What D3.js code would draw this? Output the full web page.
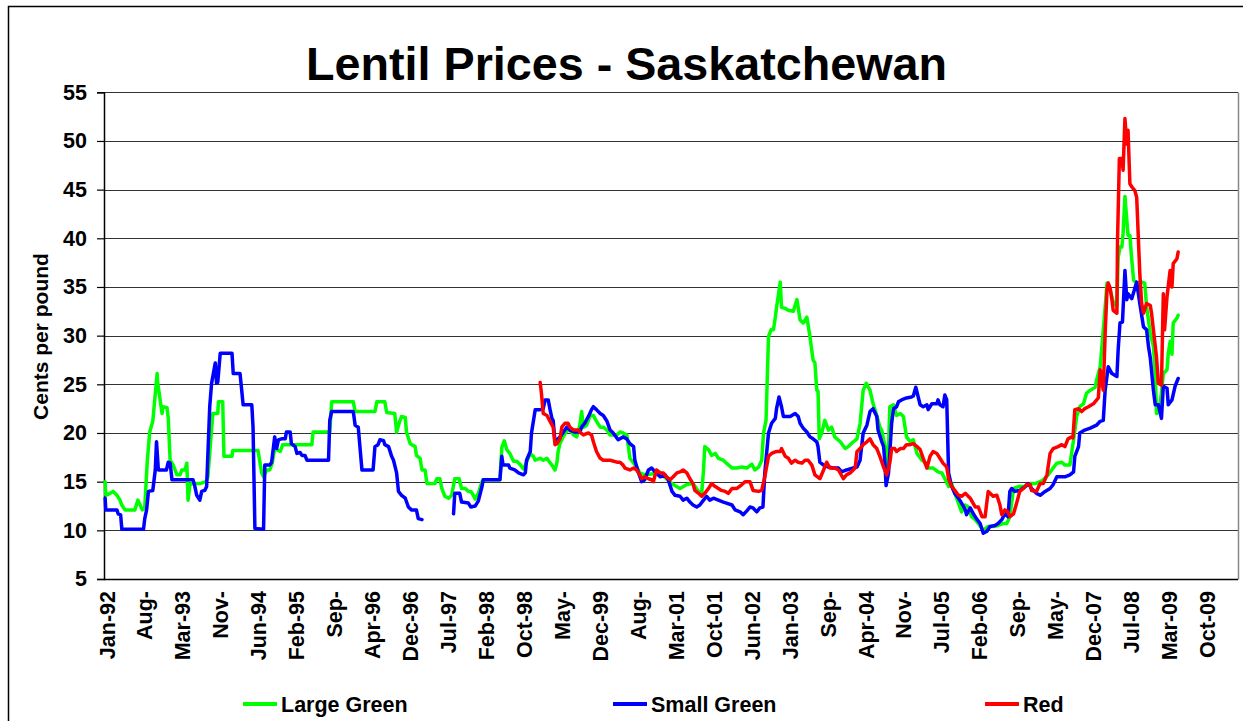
<!DOCTYPE html>
<html>
<head>
<meta charset="utf-8">
<script src="https://cdn.jsdelivr.net/npm/d3@7"></script>
<style>
  html, body { margin: 0; padding: 0; background: #fff; }
  svg { display: block; font-family: "Liberation Sans", Arial, sans-serif; }
</style>
</head>
<body>
<svg id="chart" width="1243" height="721"></svg>
<script>
// ---------- DATA ----------
const title = "Lentil Prices - Saskatchewan";
const yTitle = "Cents per pound";
const seriesNames = ["Large Green", "Small Green", "Red"];
const seriesColors = ["#00FF00", "#0000FF", "#FF0000"];
const yTicks = [5, 10, 15, 20, 25, 30, 35, 40, 45, 50, 55];
const xTickLabels = ["Jan-92","Aug-","Mar-93","Nov-","Jun-94","Feb-95","Sep-","Apr-96","Dec-96","Jul-97",
  "Feb-98","Oct-98","May-","Dec-99","Aug-","Mar-01","Oct-01","Jun-02","Jan-03","Sep-",
  "Apr-04","Nov-","Jul-05","Feb-06","Sep-","May-","Dec-07","Jul-08","Mar-09","Oct-09"];
const xTickStart = 1992.0;            // first label (decimal year)
const xTickStep = 32 * 7 / 365.25;    // one label every 32 weekly categories

// [decimal year, cents per pound]
const largeGreen = [
[1991.97,15.0],[1991.98,13.6],[1992.05,13.8],[1992.10,14.0],[1992.16,13.6],[1992.21,13.1],[1992.24,12.6],[1992.29,12.1],[1992.45,12.1],[1992.50,13.1],[1992.57,12.1],[1992.61,12.3],[1992.65,17.0],[1992.69,20.1],[1992.74,21.2],[1992.81,26.1],[1992.82,25.1],[1992.89,22.0],[1992.90,22.7],[1992.97,22.6],[1992.99,21.5],[1993.02,17.2],[1993.07,16.7],[1993.10,16.2],[1993.13,15.7],[1993.18,15.7],[1993.21,16.2],[1993.26,16.2],[1993.29,16.9],[1993.31,13.1],[1993.34,14.7],[1993.37,14.8],[1993.50,14.8],[1993.60,15.0],[1993.63,15.5],[1993.71,22.0],[1993.79,22.0],[1993.80,23.2],[1993.87,23.2],[1993.89,17.6],[1994.02,17.6],[1994.03,18.2],[1994.41,18.2],[1994.44,18.2],[1994.50,15.9],[1994.53,15.5],[1994.58,16.2],[1994.63,16.2],[1994.67,16.9],[1994.71,18.4],[1994.80,18.1],[1994.84,18.8],[1995.31,18.8],[1995.33,20.1],[1995.60,20.1],[1995.63,23.2],[1995.98,23.2],[1996.01,22.2],[1996.33,22.2],[1996.36,23.2],[1996.49,23.2],[1996.52,22.1],[1996.65,22.0],[1996.68,20.1],[1996.73,21.2],[1996.76,21.7],[1996.82,21.6],[1996.84,20.1],[1996.90,18.9],[1996.98,18.6],[1997.00,17.7],[1997.06,17.4],[1997.09,16.2],[1997.14,16.2],[1997.17,14.8],[1997.30,14.8],[1997.33,15.3],[1997.38,15.3],[1997.41,14.3],[1997.46,13.5],[1997.52,13.3],[1997.57,13.6],[1997.62,15.3],[1997.69,15.3],[1997.73,14.3],[1997.79,14.3],[1997.84,14.0],[1997.88,14.0],[1997.92,13.6],[1997.95,13.2],[1998.00,13.8],[1998.06,15.0],[1998.08,15.2],[1998.35,15.2],[1998.38,18.5],[1998.42,19.2],[1998.46,18.3],[1998.51,17.9],[1998.57,17.1],[1998.62,17.1],[1998.67,16.8],[1998.73,16.3],[1998.78,17.0],[1998.84,17.9],[1998.89,17.6],[1998.92,17.2],[1999.00,17.4],[1999.05,17.2],[1999.11,17.4],[1999.13,17.2],[1999.19,16.7],[1999.24,16.2],[1999.27,16.9],[1999.29,18.1],[1999.32,18.9],[1999.37,19.6],[1999.43,20.2],[1999.48,20.3],[1999.54,19.8],[1999.59,19.6],[1999.64,20.8],[1999.67,22.2],[1999.70,20.6],[1999.75,20.8],[1999.81,21.8],[1999.86,21.8],[1999.91,21.2],[1999.97,20.6],[2000.02,20.6],[2000.08,20.3],[2000.13,19.8],[2000.24,19.8],[2000.29,20.1],[2000.34,20.0],[2000.40,19.8],[2000.45,17.4],[2000.56,16.5],[2000.61,15.9],[2000.69,15.7],[2000.94,15.9],[2001.04,15.3],[2001.15,14.7],[2001.26,14.3],[2001.37,14.7],[2001.47,14.8],[2001.56,14.0],[2001.61,13.8],[2001.64,16.2],[2001.66,18.6],[2001.72,18.3],[2001.77,17.7],[2001.83,17.9],[2001.88,17.4],[2001.96,17.2],[2002.01,16.9],[2002.10,16.4],[2002.18,16.4],[2002.26,16.5],[2002.34,16.4],[2002.42,16.8],[2002.47,16.2],[2002.53,16.5],[2002.58,17.2],[2002.61,20.0],[2002.65,21.3],[2002.69,29.9],[2002.73,30.6],[2002.77,30.6],[2002.80,31.9],[2002.82,32.9],[2002.88,35.5],[2002.90,32.9],[2002.96,32.8],[2003.01,32.6],[2003.09,32.5],[2003.15,33.7],[2003.20,31.6],[2003.25,31.3],[2003.31,31.9],[2003.36,29.9],[2003.41,27.5],[2003.44,27.2],[2003.47,24.4],[2003.49,24.3],[2003.51,19.4],[2003.55,20.0],[2003.60,21.3],[2003.66,20.3],[2003.71,20.6],[2003.76,19.6],[2003.85,19.1],[2003.93,18.4],[2003.98,18.6],[2004.06,19.1],[2004.12,19.4],[2004.17,21.0],[2004.22,24.4],[2004.27,25.1],[2004.33,24.4],[2004.38,23.0],[2004.44,21.8],[2004.49,20.6],[2004.52,20.3],[2004.55,19.3],[2004.60,17.9],[2004.62,16.5],[2004.65,22.7],[2004.71,22.9],[2004.76,21.8],[2004.82,22.0],[2004.87,21.7],[2004.92,19.6],[2004.98,19.1],[2005.03,19.3],[2005.09,17.9],[2005.17,17.2],[2005.22,17.0],[2005.27,16.4],[2005.35,16.4],[2005.43,16.0],[2005.49,15.9],[2005.54,15.3],[2005.60,14.5],[2005.65,14.8],[2005.70,13.8],[2005.76,12.8],[2005.81,11.9],[2005.87,12.6],[2005.92,12.4],[2005.97,11.4],[2006.03,11.1],[2006.08,10.7],[2006.16,10.0],[2006.24,10.4],[2006.32,10.4],[2006.40,10.5],[2006.48,10.7],[2006.54,10.7],[2006.59,11.4],[2006.65,14.3],[2006.73,14.5],[2006.84,14.5],[2006.92,14.8],[2007.00,14.8],[2007.08,15.0],[2007.13,15.2],[2007.21,15.7],[2007.29,16.4],[2007.35,16.9],[2007.43,17.0],[2007.48,16.7],[2007.56,16.7],[2007.62,19.3],[2007.67,21.7],[2007.72,22.7],[2007.78,23.0],[2007.83,24.1],[2007.89,24.4],[2007.97,24.7],[2007.99,25.4],[2008.05,26.8],[2008.13,32.9],[2008.16,35.4],[2008.21,34.7],[2008.26,33.5],[2008.32,33.0],[2008.34,38.0],[2008.37,39.1],[2008.40,39.1],[2008.42,40.5],[2008.45,44.3],[2008.48,41.9],[2008.50,40.3],[2008.53,40.3],[2008.56,37.8],[2008.59,35.7],[2008.64,35.4],[2008.72,35.5],[2008.77,35.4],[2008.80,33.0],[2008.86,30.2],[2008.91,28.9],[2008.94,26.1],[2008.96,22.0],[2009.00,22.2],[2009.04,24.1],[2009.07,26.1],[2009.13,26.5],[2009.15,28.2],[2009.18,29.4],[2009.21,28.1],[2009.23,31.3],[2009.29,31.8],[2009.31,32.1]
];

const smallGreen = [
[1991.97,13.3],[1991.98,12.1],[1992.16,12.1],[1992.18,11.7],[1992.22,11.6],[1992.24,10.1],[1992.59,10.1],[1992.61,11.2],[1992.64,12.1],[1992.67,14.0],[1992.74,14.1],[1992.78,16.2],[1992.80,19.1],[1992.83,16.2],[1992.96,16.2],[1992.99,17.0],[1993.02,16.9],[1993.05,15.2],[1993.39,15.2],[1993.42,14.5],[1993.45,13.6],[1993.50,13.1],[1993.53,14.0],[1993.58,14.1],[1993.61,14.5],[1993.66,22.7],[1993.69,25.1],[1993.75,27.2],[1993.77,25.1],[1993.79,25.2],[1993.83,28.2],[1994.02,28.2],[1994.04,26.1],[1994.15,26.1],[1994.20,22.9],[1994.34,22.9],[1994.36,20.6],[1994.39,10.2],[1994.53,10.1],[1994.55,16.7],[1994.63,16.7],[1994.66,17.0],[1994.71,19.6],[1994.74,18.4],[1994.77,19.3],[1994.82,19.4],[1994.88,19.4],[1994.90,20.1],[1994.96,20.1],[1994.98,18.9],[1995.04,18.6],[1995.07,17.9],[1995.12,18.0],[1995.15,17.7],[1995.20,17.7],[1995.23,17.2],[1995.58,17.2],[1995.60,21.3],[1995.63,22.2],[1995.98,22.2],[1996.01,20.8],[1996.06,20.6],[1996.12,16.2],[1996.30,16.2],[1996.33,18.6],[1996.38,18.8],[1996.41,19.3],[1996.47,19.2],[1996.49,18.8],[1996.55,18.6],[1996.60,17.6],[1996.63,17.2],[1996.68,15.9],[1996.71,14.0],[1996.76,13.6],[1996.82,13.3],[1996.87,12.4],[1996.92,12.1],[1997.00,12.1],[1997.03,11.2],[1997.09,11.1],
null,
[1997.60,11.7],[1997.62,13.8],[1997.70,13.8],[1997.73,12.9],[1997.84,12.8],[1997.88,12.4],[1997.95,12.5],[1998.00,13.0],[1998.06,14.5],[1998.08,15.2],[1998.35,15.2],[1998.38,17.6],[1998.40,16.7],[1998.49,16.7],[1998.51,16.4],[1998.59,16.2],[1998.65,15.9],[1998.73,15.7],[1998.76,15.9],[1998.78,17.2],[1998.84,18.1],[1998.86,20.0],[1998.92,22.4],[1999.00,22.4],[1999.05,22.5],[1999.08,23.4],[1999.13,23.4],[1999.16,22.4],[1999.19,21.5],[1999.21,21.3],[1999.24,19.1],[1999.32,19.6],[1999.43,20.6],[1999.48,20.3],[1999.56,20.1],[1999.64,20.1],[1999.67,20.6],[1999.72,21.0],[1999.78,21.7],[1999.83,22.4],[1999.86,22.7],[1999.91,22.4],[1999.97,22.0],[2000.02,21.8],[2000.08,21.2],[2000.13,20.3],[2000.18,20.0],[2000.26,19.3],[2000.34,19.6],[2000.40,19.4],[2000.45,18.9],[2000.51,18.6],[2000.53,17.2],[2000.59,15.9],[2000.64,15.0],[2000.69,15.2],[2000.75,16.2],[2000.80,16.4],[2000.86,16.0],[2000.94,15.5],[2001.02,15.7],[2001.07,15.2],[2001.13,14.0],[2001.18,13.6],[2001.26,13.5],[2001.31,13.1],[2001.37,13.3],[2001.42,12.9],[2001.47,12.6],[2001.53,12.4],[2001.58,12.6],[2001.64,13.1],[2001.69,13.5],[2001.74,13.1],[2001.80,13.3],[2001.88,13.1],[2001.96,12.9],[2002.01,12.8],[2002.10,12.6],[2002.15,12.1],[2002.23,11.9],[2002.28,11.6],[2002.34,12.0],[2002.39,12.4],[2002.44,12.3],[2002.50,11.9],[2002.55,12.3],[2002.60,12.4],[2002.63,15.9],[2002.69,20.0],[2002.74,21.0],[2002.80,21.5],[2002.82,22.5],[2002.86,23.7],[2002.90,22.7],[2002.93,21.7],[2003.04,21.7],[2003.12,22.0],[2003.17,21.7],[2003.20,21.0],[2003.25,20.5],[2003.31,20.1],[2003.36,19.6],[2003.41,19.4],[2003.47,19.1],[2003.49,18.6],[2003.52,17.0],[2003.58,16.7],[2003.66,16.5],[2003.74,16.4],[2003.82,16.4],[2003.87,16.0],[2003.95,16.2],[2004.06,16.4],[2004.12,16.5],[2004.17,17.2],[2004.22,20.0],[2004.28,20.8],[2004.33,22.2],[2004.38,22.5],[2004.44,21.7],[2004.46,20.3],[2004.52,19.1],[2004.55,18.6],[2004.57,17.0],[2004.59,14.6],[2004.63,15.9],[2004.68,21.0],[2004.71,22.5],[2004.76,22.7],[2004.79,23.2],[2004.84,23.4],[2004.92,23.6],[2005.00,23.7],[2005.03,23.8],[2005.07,24.7],[2005.14,22.9],[2005.19,22.7],[2005.25,22.9],[2005.27,22.4],[2005.33,23.0],[2005.41,23.0],[2005.43,23.4],[2005.46,22.9],[2005.51,22.7],[2005.54,23.9],[2005.57,23.4],[2005.60,15.9],[2005.65,14.5],[2005.70,13.8],[2005.76,13.3],[2005.81,12.8],[2005.87,12.1],[2005.89,11.6],[2005.95,12.3],[2006.00,11.7],[2006.05,11.2],[2006.11,10.7],[2006.16,9.7],[2006.22,9.9],[2006.27,10.4],[2006.35,10.5],[2006.40,10.7],[2006.46,11.1],[2006.51,11.7],[2006.56,11.4],[2006.59,14.0],[2006.62,14.3],[2006.67,14.0],[2006.75,14.1],[2006.84,14.5],[2006.89,14.8],[2006.94,14.3],[2007.02,13.8],[2007.08,13.6],[2007.16,14.0],[2007.24,14.3],[2007.29,14.7],[2007.35,15.5],[2007.48,15.5],[2007.56,15.7],[2007.62,16.0],[2007.64,17.6],[2007.70,18.6],[2007.72,20.0],[2007.80,20.3],[2007.89,20.5],[2007.99,20.8],[2008.05,21.2],[2008.10,21.3],[2008.13,24.4],[2008.18,26.8],[2008.24,26.1],[2008.32,25.8],[2008.34,28.5],[2008.37,31.3],[2008.41,31.4],[2008.45,36.7],[2008.48,33.7],[2008.50,34.3],[2008.56,33.8],[2008.64,35.5],[2008.69,33.3],[2008.75,30.9],[2008.80,30.6],[2008.83,28.9],[2008.86,27.7],[2008.91,24.4],[2008.94,22.9],[2008.99,22.9],[2009.04,21.5],[2009.07,24.8],[2009.13,24.6],[2009.15,22.9],[2009.21,23.4],[2009.26,24.8],[2009.31,25.6]
];

const red = [
[1999.00,25.2],[1999.02,24.1],[1999.05,22.0],[1999.11,21.8],[1999.16,21.2],[1999.21,20.6],[1999.24,18.8],[1999.27,18.9],[1999.32,19.4],[1999.35,20.6],[1999.40,21.0],[1999.45,21.0],[1999.48,20.6],[1999.54,20.3],[1999.62,20.3],[1999.64,20.1],[1999.70,19.8],[1999.78,20.0],[1999.83,19.8],[1999.86,19.1],[1999.91,18.1],[1999.97,17.4],[2000.02,17.2],[2000.13,17.2],[2000.24,17.0],[2000.29,17.0],[2000.34,16.7],[2000.37,16.4],[2000.45,16.2],[2000.51,16.4],[2000.56,16.2],[2000.61,15.7],[2000.64,15.3],[2000.69,15.5],[2000.75,15.3],[2000.80,15.2],[2000.83,15.0],[2000.88,16.2],[2000.94,15.9],[2000.99,15.9],[2001.04,15.5],[2001.10,15.2],[2001.15,15.5],[2001.21,15.9],[2001.26,16.0],[2001.31,16.2],[2001.37,15.9],[2001.42,15.3],[2001.47,14.8],[2001.50,14.1],[2001.56,13.8],[2001.61,13.5],[2001.66,13.8],[2001.72,14.3],[2001.77,14.8],[2001.83,14.5],[2001.88,14.3],[2001.93,14.1],[2001.99,14.0],[2002.04,13.8],[2002.10,14.3],[2002.18,14.3],[2002.26,14.7],[2002.31,15.0],[2002.39,15.0],[2002.44,14.1],[2002.53,14.0],[2002.58,14.1],[2002.63,15.5],[2002.69,17.6],[2002.74,17.9],[2002.82,18.1],[2002.88,18.1],[2002.90,18.4],[2002.96,17.6],[2003.01,17.4],[2003.06,16.9],[2003.12,17.2],[2003.17,17.0],[2003.23,16.9],[2003.28,17.2],[2003.33,17.2],[2003.39,16.7],[2003.44,15.7],[2003.52,15.3],[2003.58,16.2],[2003.63,17.0],[2003.68,16.4],[2003.76,16.4],[2003.82,16.2],[2003.90,15.3],[2003.95,15.7],[2004.01,15.9],[2004.09,16.4],[2004.12,18.1],[2004.17,18.4],[2004.22,18.8],[2004.28,19.1],[2004.33,19.4],[2004.38,18.8],[2004.44,18.4],[2004.49,17.6],[2004.55,16.5],[2004.60,15.7],[2004.65,16.9],[2004.68,18.4],[2004.73,18.4],[2004.76,18.1],[2004.82,18.4],[2004.87,18.4],[2004.92,18.8],[2004.98,18.8],[2005.03,18.9],[2005.09,18.6],[2005.14,18.3],[2005.19,17.4],[2005.25,16.4],[2005.30,17.6],[2005.35,18.1],[2005.41,17.9],[2005.46,17.4],[2005.51,16.9],[2005.57,16.5],[2005.60,15.3],[2005.65,14.5],[2005.70,14.1],[2005.76,13.6],[2005.81,13.5],[2005.87,13.8],[2005.95,13.3],[2006.03,12.4],[2006.08,12.4],[2006.14,11.4],[2006.19,11.4],[2006.24,14.0],[2006.32,13.5],[2006.38,13.6],[2006.43,12.6],[2006.46,11.6],[2006.51,12.1],[2006.56,11.9],[2006.59,11.4],[2006.65,11.7],[2006.70,12.8],[2006.75,14.0],[2006.81,14.3],[2006.86,14.7],[2006.92,14.7],[2006.94,14.1],[2007.02,14.0],[2007.08,14.8],[2007.13,14.8],[2007.19,15.7],[2007.24,17.9],[2007.29,18.4],[2007.37,18.6],[2007.43,18.8],[2007.48,18.6],[2007.53,19.4],[2007.59,19.6],[2007.61,19.5],[2007.64,22.4],[2007.70,22.5],[2007.75,22.2],[2007.80,22.5],[2007.86,22.7],[2007.94,23.0],[2008.02,23.6],[2008.05,26.5],[2008.07,25.6],[2008.10,24.4],[2008.13,30.2],[2008.16,34.7],[2008.18,35.4],[2008.21,34.9],[2008.24,33.7],[2008.26,32.6],[2008.32,32.3],[2008.33,39.8],[2008.36,48.2],[2008.40,48.2],[2008.42,47.0],[2008.45,52.3],[2008.48,49.7],[2008.50,51.1],[2008.53,45.6],[2008.56,45.3],[2008.61,44.9],[2008.64,44.2],[2008.69,36.4],[2008.72,33.3],[2008.75,32.3],[2008.80,33.3],[2008.86,33.1],[2008.88,32.3],[2008.91,30.6],[2008.96,27.8],[2008.99,25.1],[2009.04,24.9],[2009.07,34.3],[2009.09,30.6],[2009.13,34.0],[2009.18,36.7],[2009.21,35.0],[2009.23,37.4],[2009.29,37.9],[2009.31,38.6]
];

const seriesData = [largeGreen, smallGreen, red];

// ---------- LAYOUT ----------
const svg = d3.select("#chart");
const W = 1243, H = 721;
const plot = { left: 104, right: 1238, top: 92.3, bottom: 579 };

const x = d3.scaleLinear().domain([1991.9515, 2010.277]).range([plot.left, plot.right]);
const y = d3.scaleLinear().domain([5, 55]).range([plot.bottom, plot.top]);

svg.append("rect").attr("width", W).attr("height", H).attr("fill", "#fff");

// outer chart frame
svg.append("rect")
  .attr("x", 8.5).attr("y", 6.5).attr("width", W + 20).attr("height", H + 20)
  .attr("fill", "none").attr("stroke", "#000").attr("stroke-width", 1.5);

// title
svg.append("text")
  .attr("x", 626.5).attr("y", 80)
  .attr("text-anchor", "middle")
  .attr("font-size", 46.7).attr("font-weight", "bold").attr("fill", "#000")
  .text(title);

// gridlines
svg.append("g").selectAll("line").data(yTicks.filter(d => d > 5)).join("line")
  .attr("x1", plot.left).attr("x2", plot.right)
  .attr("y1", d => Math.round(y(d)) + 0.5).attr("y2", d => Math.round(y(d)) + 0.5)
  .attr("stroke", "#333").attr("stroke-width", 1);

// right frame of plot area
svg.append("line")
  .attr("x1", plot.right + 0.5).attr("x2", plot.right + 0.5)
  .attr("y1", Math.round(y(55)) + 0.5).attr("y2", Math.round(y(5)) + 0.5)
  .attr("stroke", "#888").attr("stroke-width", 1.5);

// y axis
const yAxis = d3.axisLeft(y).tickValues(yTicks).tickSize(7).tickPadding(10).tickFormat(d3.format("d"));
const gy = svg.append("g").attr("transform", `translate(${plot.left},0)`).call(yAxis);
gy.select(".domain").attr("stroke", "#000").attr("stroke-width", 1.5);
gy.selectAll(".tick line").attr("stroke", "#000").attr("stroke-width", 1.2);
gy.selectAll(".tick text")
  .attr("font-family", "Liberation Sans, Arial, sans-serif")
  .attr("font-size", 21.5).attr("font-weight", "bold").attr("fill", "#000");

// x axis line
svg.append("line")
  .attr("x1", plot.left).attr("x2", plot.right)
  .attr("y1", plot.bottom + 0.5).attr("y2", plot.bottom + 0.5)
  .attr("stroke", "#000").attr("stroke-width", 1.5);

// x tick labels (category labels every 32 weeks)
svg.append("g").selectAll("text").data(xTickLabels).join("text")
  .attr("transform", (d, i) => `translate(${x(xTickStart + i * xTickStep) + 7.5},591) rotate(-90)`)
  .attr("text-anchor", "end")
  .attr("font-size", 21.5).attr("font-weight", "bold").attr("fill", "#000")
  .text(d => d);

// y axis title
svg.append("text")
  .attr("transform", "translate(48,336.5) rotate(-90)")
  .attr("text-anchor", "middle")
  .attr("font-size", 21).attr("font-weight", "bold").attr("fill", "#000")
  .text(yTitle);

// series lines
const line = d3.line()
  .defined(d => d !== null)
  .x(d => x(d[0])).y(d => y(d[1]));

svg.append("g").selectAll("path").data(seriesData).join("path")
  .attr("d", d => line(d))
  .attr("fill", "none")
  .attr("stroke", (d, i) => seriesColors[i])
  .attr("stroke-width", 3.5)
  .attr("stroke-linejoin", "round")
  .attr("stroke-linecap", "round");

// legend
const legendX = [243, 613, 985];
const lg = svg.append("g").selectAll("g").data(seriesNames).join("g")
  .attr("transform", (d, i) => `translate(${legendX[i]},704)`);
lg.append("line").attr("x1", 0).attr("x2", 34).attr("y1", 0).attr("y2", 0)
  .attr("stroke", (d, i) => seriesColors[i]).attr("stroke-width", 4);
lg.append("text").attr("x", 38).attr("y", 7.5)
  .attr("font-size", 21.5).attr("font-weight", "bold").attr("fill", "#000")
  .text(d => d);
</script>
</body>
</html>
